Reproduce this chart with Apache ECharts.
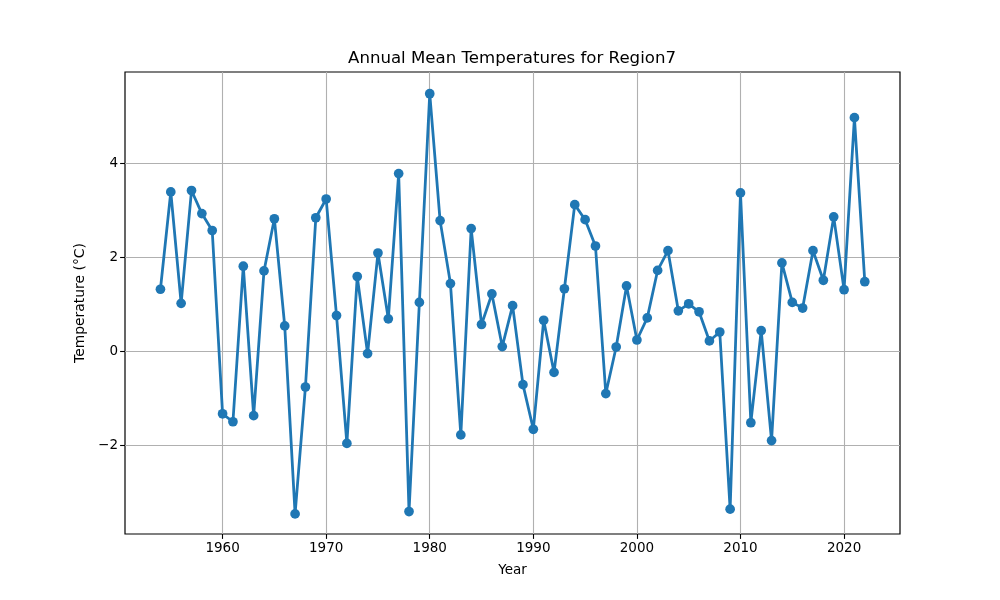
<!DOCTYPE html>
<html>
<head>
<meta charset="utf-8">
<style>html,body{margin:0;padding:0;background:#fff}#c{width:1000px;height:600px}</style>
<script src="https://cdn.jsdelivr.net/npm/echarts@6/dist/echarts.min.js"></script>
</head>
<body>
<div id="c"></div>
<script>
const years = [1954,1955,1956,1957,1958,1959,1960,1961,1962,1963,1964,1965,1966,1967,1968,1969,1970,1971,1972,1973,1974,1975,1976,1977,1978,1979,1980,1981,1982,1983,1984,1985,1986,1987,1988,1989,1990,1991,1992,1993,1994,1995,1996,1997,1998,1999,2000,2001,2002,2003,2004,2005,2006,2007,2008,2009,2010,2011,2012,2013,2014,2015,2016,2017,2018,2019,2020,2021,2022];
const temps = [1.33,3.40,1.03,3.43,2.94,2.58,-1.32,-1.49,1.82,-1.36,1.72,2.83,0.55,-3.45,-0.75,2.85,3.25,0.77,-1.95,1.60,-0.04,2.10,0.70,3.79,-3.40,1.05,5.49,2.79,1.45,-1.77,2.62,0.58,1.23,0.11,0.98,-0.70,-1.65,0.67,-0.44,1.34,3.13,2.81,2.25,-0.89,0.10,1.40,0.25,0.72,1.73,2.15,0.87,1.02,0.85,0.23,0.42,-3.35,3.38,-1.51,0.45,-1.89,1.89,1.05,0.93,2.15,1.52,2.87,1.32,4.98,1.49];
const xTicks = [1960,1970,1980,1990,2000,2010,2020];
const yTicks = [-2,0,2,4];
const titleText = 'Annual Mean Temperatures for Region7';
const xName = 'Year';
const yName = 'Temperature (°C)';

const font = 'DejaVu Sans';
const chart = echarts.init(document.getElementById('c'), null, {renderer:'canvas'});
const axisCommon = {
  nameLocation:'middle',
  axisLine:{show:false,onZero:false},
  splitLine:{show:true,lineStyle:{color:'#b0b0b0',width:1.1}},
};
chart.setOption({
  animation:false,
  backgroundColor:'#fff',
  title:{text:titleText,left:507,top:45,textAlign:'center',
    textStyle:{fontFamily:font,fontSize:16.6,fontWeight:'normal',color:'#000'}},
  grid:{left:125,right:100,top:72,bottom:66,show:true,borderColor:'#000',borderWidth:1.2,backgroundColor:'#fff'},
  xAxis:Object.assign({},axisCommon,{
    type:'value',name:xName,nameGap:29,min:1950.58,max:2025.4,
    nameTextStyle:{fontFamily:font,fontSize:13.5,color:'#000'},
    axisTick:{show:true,length:4.9,customValues:xTicks,lineStyle:{color:'#000',width:1.1}},
    axisLabel:{customValues:xTicks,fontFamily:font,fontSize:13.5,color:'#000',margin:7,formatter:v=>String(v)}
  }),
  yAxis:Object.assign({},axisCommon,{
    type:'value',name:yName,nameGap:37,min:-3.878,max:5.952,
    nameTextStyle:{fontFamily:font,fontSize:13.9,color:'#000'},
    axisTick:{show:true,length:4.9,customValues:yTicks,lineStyle:{color:'#000',width:1.1}},
    axisLabel:{customValues:yTicks,fontFamily:font,fontSize:13.5,color:'#000',margin:7,padding:[2,0,0,0],
      formatter:v=>String(v).replace('-','\u2212')}
  }),
  series:[{
    type:'line',
    data:years.map((y,i)=>[y,temps[i]]),
    symbol:'circle',symbolSize:9.7,
    lineStyle:{color:'#1f77b4',width:2.78},
    itemStyle:{color:'#1f77b4'},
    clip:false
  }]
});
</script>
</body>
</html>
